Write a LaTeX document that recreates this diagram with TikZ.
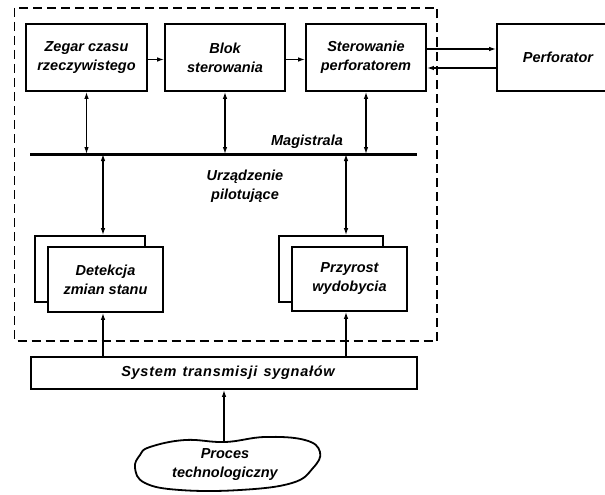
\documentclass[tikz,border=0pt]{standalone}
\usepackage{fontspec}
\setmainfont{Liberation Sans}
\usetikzlibrary{arrows.meta}
\begin{document}
\begin{tikzpicture}[x=1pt,y=-1pt,
  >={Latex[length=7pt,width=4.5pt]},
  every node/.style={font=\fontsize{14.5}{19}\selectfont\bfseries\itshape, align=center, inner sep=0pt},
  blk/.style={draw, line width=1.8pt, fill=white},
  conn/.style={line width=1.2pt},
  lbl/.style={}]
\useasboundingbox (0,0) rectangle (605,495);
% dashed enclosure
\draw[line width=1.3pt, dash pattern=on 9pt off 5pt] (14.5,8) rectangle (437,341);
% top row
\node[blk, minimum width=121pt, minimum height=67pt] (zegar) at (86.5,57.5) {Zegar czasu\\rzeczywistego};
\node[blk, minimum width=120pt, minimum height=67pt] (blok) at (225,57.5) {Blok\\sterowania};
\node[blk, minimum width=120pt, minimum height=67pt] (ster) at (366,57.5) {Sterowanie\\perforatorem};
\node[blk, minimum width=122pt, minimum height=67pt] (perf) at (558,57.5) {Perforator};
\draw[conn,->] ([yshift=-2pt]zegar.east) -- ([yshift=-2pt]blok.west);
\draw[conn,->] ([yshift=-2pt]blok.east) -- ([yshift=-2pt]ster.west);
\draw[conn,->] ([yshift=8.5pt]ster.east) -- ([yshift=8.5pt]perf.west);
\draw[conn,<-] ([yshift=-10.5pt]ster.east) -- ([yshift=-10.5pt]perf.west);
% bus
\coordinate (busL) at (30,154);
\coordinate (busR) at (417,154);
\draw[line width=3pt] (busL) -- (busR);
\node[lbl] (mag) at (307,142) {Magistrala};
\draw[conn,<->] (zegar.south) -- (zegar.south |- busL);
\draw[conn,<->] (blok.south) -- (blok.south |- busL);
\draw[conn,<->] (ster.south) -- (ster.south |- busL);
\node[lbl] (urz) at (245,186) {Urządzenie\\pilotujące};
% lower blocks
\node[blk, minimum width=110pt, minimum height=66pt] (detb) at (90,269) {};
\node[blk, minimum width=115pt, minimum height=65pt] (det) at (105.5,279.5) {Detekcja\\zmian stanu};
\node[blk, minimum width=104pt, minimum height=66pt] (przb) at (331,269) {};
\node[blk, minimum width=115pt, minimum height=64pt] (prz) at (349.5,279) {Przyrost\\wydobycia};
\coordinate (b1) at (103,154);
\coordinate (b2) at (346,154);
\draw[conn,<->] (b1) -- (b1 |- detb.north);
\draw[conn,<->] (b2) -- (b2 |- przb.north);
% transmission system
\node[blk, minimum width=386pt, minimum height=32pt] (sys) at (224,373) {};
\node[lbl] (systxt) at (228,373) {\addfontfeature{LetterSpace=5}System\hspace{6pt}transmisji\hspace{6pt}sygnałów};
\draw[conn,->] (sys.north -| b1) -- (det.south -| b1);
\draw[conn,->] (sys.north -| b2) -- (prz.south -| b2);
% process cloud
\draw[line width=1.8pt] plot[smooth cycle, tension=0.7] coordinates {(150,447) (185,440) (225,442) (265,437) (305,440) (320,452) (313,468) (292,483) (240,490) (180,490) (145,483) (135,468) (140,455)};
\node[lbl] (proc) at (225,465) {Proces\\technologiczny};
\coordinate (ptop) at (224,441);
\draw[conn,->] (ptop) -- (ptop |- sys.south);
\end{tikzpicture}
\end{document}
